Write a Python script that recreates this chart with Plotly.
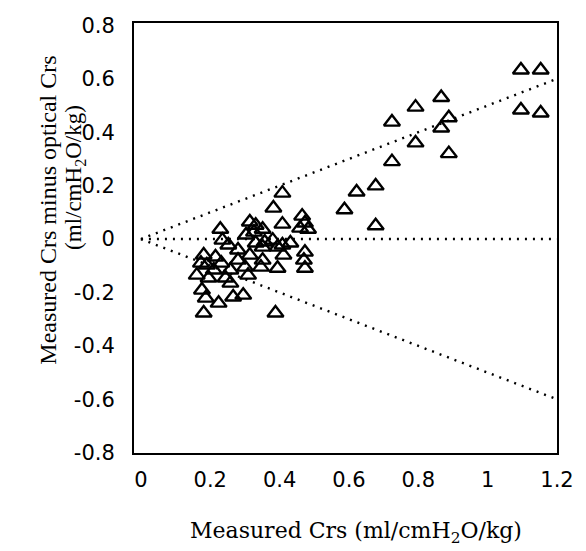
import plotly.graph_objects as go

# Measured Crs (x) and difference measured - optical Crs (y)
measured_crs = [
    0.408, 0.382, 0.465, 0.408, 0.473, 0.459, 0.482, 0.314, 0.331, 0.326,
    0.351, 0.380, 0.431, 0.408, 0.357, 0.229, 0.235, 0.252, 0.303, 0.331,
    0.181, 0.215, 0.173, 0.190, 0.232, 0.280, 0.314, 0.300, 0.195, 0.244,
    0.309, 0.176, 0.187, 0.224, 0.266, 0.295, 0.181, 0.388, 0.351, 0.394,
    0.473, 0.470, 0.351, 0.394, 0.473, 0.346, 0.411, 0.258, 0.210, 0.280,
    0.258, 0.161,
    0.866, 0.792, 0.724, 0.888, 0.866, 0.792, 0.888, 0.724, 0.677, 0.622,
    0.587, 0.677, 1.096, 1.153, 1.096, 1.153,
]
difference = [
    0.172, 0.116, 0.086, 0.056, 0.060, 0.041, 0.037, 0.064, 0.052, 0.026,
    0.037, -0.004, -0.015, -0.022, -0.011, 0.037, -0.004, -0.022, 0.015, -0.015,
    -0.060, -0.067, -0.090, -0.097, -0.090, -0.079, -0.060, -0.105, -0.146, -0.146,
    -0.135, -0.191, -0.221, -0.240, -0.217, -0.210, -0.277, -0.277, -0.030, -0.030,
    -0.049, -0.079, -0.079, -0.109, -0.109, -0.105, -0.060, -0.116, -0.116, -0.041,
    -0.165, -0.135,
    0.530, 0.494, 0.438, 0.454, 0.416, 0.360, 0.320, 0.290, 0.199, 0.176,
    0.110, 0.050, 0.633, 0.633, 0.483, 0.472,
]

# Reference lines: from origin to x=1.2
ref_x = [0, 1.2]
ref_upper = [0, 0.6]
ref_zero = [0, 0]
ref_lower = [0, -0.6]

x_ticks = [0, 0.2, 0.4, 0.6, 0.8, 1, 1.2]
x_tick_labels = ["0", "0.2", "0.4", "0.6", "0.8", "1", "1.2"]
y_ticks = [0.8, 0.6, 0.4, 0.2, 0, -0.2, -0.4, -0.6, -0.8]
y_tick_labels = ["0.8", "0.6", "0.4", "0.2", "0", "-0.2", "-0.4", "-0.6", "-0.8"]

x_title = "Measured Crs (ml/cmH<sub>2</sub>O/kg)"
y_title_1 = "Measured Crs minus optical Crs"
y_title_2 = "(ml/cmH<sub>2</sub>O/kg)"

fig = go.Figure()
for yy in (ref_upper, ref_zero, ref_lower):
    fig.add_trace(go.Scatter(
        x=ref_x, y=yy, mode="lines",
        line=dict(color="black", width=2.4, dash="2px,6px"),
        hoverinfo="skip", showlegend=False,
    ))

fig.add_trace(go.Scatter(
    x=measured_crs, y=difference, mode="markers",
    marker=dict(symbol="triangle-up-open", size=14, color="black",
                line=dict(color="black", width=2.4)),
    showlegend=False,
))

serif = "Liberation Serif, Times New Roman, serif"
wide_serif = "DejaVu Serif, serif"
sans = "DejaVu Sans, sans-serif"

fig.update_layout(
    width=586, height=551,
    margin=dict(l=134, r=21, t=23, b=98),
    paper_bgcolor="white", plot_bgcolor="white",
    xaxis=dict(
        range=[-0.02, 1.2], tickvals=x_ticks, ticktext=x_tick_labels,
        showgrid=False, zeroline=False, showline=True, mirror=True,
        linecolor="black", linewidth=2, ticks="", ticklabelstandoff=7,
        tickfont=dict(family=sans, size=21, color="black"),
    ),
    yaxis=dict(
        range=[-0.801, 0.809], tickvals=y_ticks, ticktext=y_tick_labels,
        showgrid=False, zeroline=False, showline=True, mirror=True,
        linecolor="black", linewidth=2, ticks="", ticklabelstandoff=13,
        tickfont=dict(family=sans, size=21, color="black"),
    ),
    annotations=[
        dict(text=x_title, xref="paper", yref="paper", x=0.525, y=-0.186,
             xanchor="center", yanchor="middle", showarrow=False,
             font=dict(family=wide_serif, size=22, color="black")),
        dict(text=y_title_1, xref="paper", yref="paper", x=-0.2042, y=0.565,
             xanchor="center", yanchor="middle", showarrow=False, textangle=-90,
             font=dict(family=serif, size=24, color="black")),
        dict(text=y_title_2, xref="paper", yref="paper", x=-0.1392, y=0.640,
             xanchor="center", yanchor="middle", showarrow=False, textangle=-90,
             font=dict(family=serif, size=23, color="black")),
    ],
)

fig.write_html("out.html", config={"displayModeBar": False},
               post_script="document.body.style.margin='0';")
